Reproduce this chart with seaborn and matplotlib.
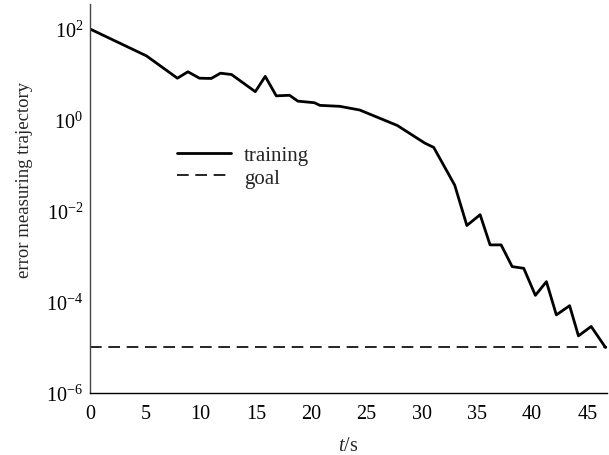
import matplotlib
matplotlib.use("Agg")
import matplotlib.pyplot as plt
import numpy as np
import pandas as pd
import seaborn as sns
from matplotlib.ticker import NullLocator

# Training error over time
t_train = [0, 5.1, 7.9, 8.85, 9.9, 10.96, 11.8, 12.8, 14.95, 15.85, 16.85,
           18.05, 18.8, 20.3, 20.8, 22.6, 24.4, 27.8, 30.3, 31.1, 33.0, 34.1,
           35.3, 36.2, 37.2, 38.2, 39.25, 40.3, 41.3, 42.2, 43.4, 44.2, 45.35,
           46.65]
err_train = [100, 25.7, 8.3, 11.5, 8.3, 8.2, 10.7, 10.0, 4.2, 9.1, 3.4,
             3.5, 2.6, 2.4, 2.1, 2.0, 1.66, 0.76, 0.31, 0.25, 0.037, 0.0048,
             0.0083, 0.0018, 0.0018, 0.0006, 0.00055, 0.00014, 0.00028,
             5.2e-5, 8.3e-5, 1.8e-5, 2.9e-5, 1.0e-5]

# Error goal
t_goal = [0, 46.8]
err_goal = [1e-5, 1e-5]

x_ticks = [0, 5, 10, 15, 20, 25, 30, 35, 40, 45]
y_ticks = [1e-6, 1e-4, 1e-2, 1e0, 1e2]

sns.set_theme(style="white")
plt.rcParams["font.family"] = ["Liberation Serif", "DejaVu Serif"]
plt.rcParams["mathtext.fontset"] = "custom"
plt.rcParams["mathtext.rm"] = "Liberation Serif"
plt.rcParams["mathtext.it"] = "Liberation Serif:italic"

fig = plt.figure(figsize=(6.09, 4.56), dpi=100)
ax = fig.add_axes([0.148, 0.136, 0.849, 0.853])

train_df = pd.DataFrame({"t": t_train, "err": err_train})
goal_df = pd.DataFrame({"t": t_goal, "err": err_goal})

sns.lineplot(data=train_df, x="t", y="err", ax=ax, color="black",
             linewidth=2.0, label="training", estimator=None, sort=False)
sns.lineplot(data=goal_df, x="t", y="err", ax=ax, color="black",
             linewidth=1.2, linestyle=(0, (7, 4)),
             label="goal", estimator=None)

ax.set_yscale("log")
ax.set_xlim(0, 46.8)
ax.set_ylim(1e-6, 10 ** 2.55)
ax.set_xticks(x_ticks)
ax.set_yticks(y_ticks)
ax.yaxis.set_minor_locator(NullLocator())
ax.xaxis.set_minor_locator(NullLocator())

for side in ("top", "right"):
    ax.spines[side].set_visible(False)
ax.spines["bottom"].set_color("black")
ax.spines["left"].set_color("#444444")
for side in ("left", "bottom"):
    ax.spines[side].set_linewidth(1.0)

ax.tick_params(axis="both", direction="in", length=5, width=1,
               labelsize=14.5, colors="black")
ax.tick_params(axis="x", pad=8)
ax.tick_params(axis="y", pad=5)

ax.set_xlabel(r"$\it{t}$/s", fontsize=14.5, labelpad=9)
ax.set_ylabel("error measuring trajectory", fontsize=13.5)
ax.yaxis.set_label_coords(-0.11, 0.55)

ax.legend(loc="upper left", bbox_to_anchor=(0.168, 0.637), frameon=False,
          fontsize=15, handlelength=2.6, handletextpad=0.6,
          labelspacing=0.15, borderaxespad=0, borderpad=0)

fig.savefig("out.png", dpi=100)
